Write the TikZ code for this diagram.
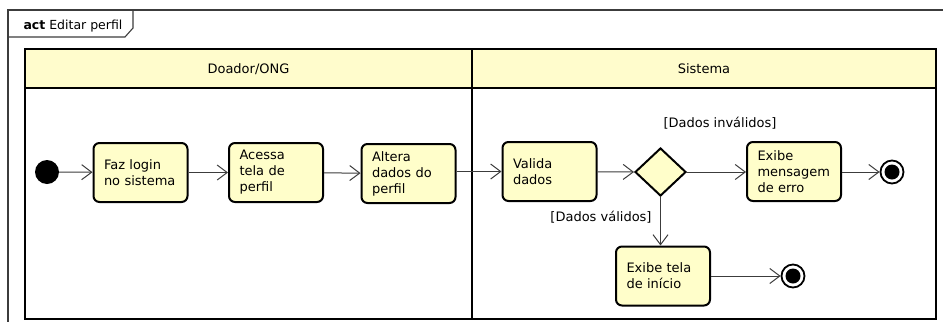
\documentclass[tikz,border=0pt]{standalone}
\usepackage{fontspec}
\setmainfont{DejaVu Sans}
\usetikzlibrary{shapes.geometric,arrows.meta}
\definecolor{lanefill}{RGB}{255,252,204}
\definecolor{actfill}{RGB}{255,254,202}
\definecolor{flowcol}{RGB}{60,60,60}
\begin{document}
\begin{tikzpicture}[x=1pt,y=-1pt,
  txt/.style={font=\fontsize{13}{16}\selectfont},
  action/.style={txt, draw=black, line width=2pt, rounded corners=6pt, fill=actfill,
    text width=73pt, inner xsep=10.5pt, inner ysep=3pt, minimum height=59pt, align=left},
  decision/.style={diamond, draw=black, line width=2pt, fill=actfill, inner sep=0pt,
    minimum width=51pt, minimum height=48pt},
  startnode/.style={circle, fill=black, inner sep=0pt, minimum size=24pt},
  endnode/.style={circle, draw=black, line width=1.8pt, fill=white, inner sep=0pt,
    minimum size=23pt, path picture={\fill[black] (path picture bounding box.center) circle (7.5pt);}},
  flow/.style={draw=flowcol, line width=1pt, -{Straight Barb[length=10pt,width=15pt,line width=1pt]}},
  guard/.style={txt},
  lane/.style={draw=black, line width=2.4pt}
]
\useasboundingbox (0,0) rectangle (943,322);

% diagram frame and its name tab
\draw[draw=flowcol, line width=1.1pt] (943,10) -- (8,10) -- (8,322);
\draw[draw=flowcol, line width=1.1pt] (8,37) -- (125,37) -- (133,28) -- (133,10);
\node[anchor=base west, font=\fontsize{12.5}{15}\selectfont] (title) at (20,29) {\textbf{act} Editar perfil};

% swimlanes
\fill[lanefill] (25,49) rectangle (936,88);
\draw[lane] (25,49) rectangle (936,319);
\draw[lane] (25,88) -- (936,88);
\draw[lane] (472,49) -- (472,319);
\node[txt] (laneA) at (248.5,69) {Doador/ONG};
\node[txt] (laneB) at (704,69) {Sistema};

% activity nodes
\node[startnode] (ini) at (47,172) {};
\node[action] (login) at (140.5,172.5) {Faz login\\no sistema};
\node[action] (tela) at (276,172.5) {Acessa\\tela de\\perfil};
\node[action] (altera) at (408.5,173.5) {Altera\\dados do\\perfil};
\node[action] (valida) at (549.5,171.5) {Valida\\dados};
\node[decision] (dec) at (660.5,172) {};
\node[action] (erro) at (794,171.5) {Exibe\\mensagem\\de erro};
\node[endnode] (fim1) at (892,172) {};
\node[action] (inicio) at (663,276) {Exibe tela\\de início};
\node[endnode] (fim2) at (793,276) {};

% control flows
\draw[flow] (ini) -- (login);
\draw[flow] (login) -- (tela);
\draw[flow] (tela) -- (altera);
\draw[flow] (altera.east |- valida.west) -- (valida.west);
\draw[flow] (valida) -- (dec.west);
\draw[flow] (dec.east) -- (erro.west |- dec.east);
\draw[flow] (erro.east |- fim1) -- (fim1);
\draw[flow] (dec.south) -- (dec.south |- inicio.north);
\draw[flow] (inicio.east |- fim2) -- (fim2);

% guards
\node[guard] (g1) at (720,123) {[Dados inválidos]};
\node[guard] (g2) at (601,217) {[Dados válidos]};
\end{tikzpicture}
\end{document}
